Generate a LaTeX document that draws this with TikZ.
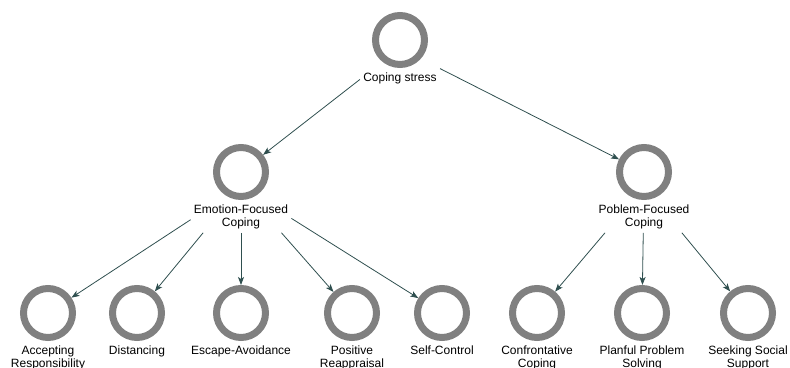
\documentclass[tikz,border=0pt]{standalone}
\usepackage{fontspec}
\setmainfont{Liberation Sans}
\usetikzlibrary{positioning}
\usetikzlibrary{arrows.meta}
\usetikzlibrary{fit}
\definecolor{ringgray}{RGB}{128,128,128}
\definecolor{edgeteal}{RGB}{47,79,79}

\begin{document}
\begin{tikzpicture}[x=1pt, y=-1pt, every node/.style={font=\fontsize{12}{13}\selectfont},
    ring/.style={circle, draw=ringgray, line width=7pt, minimum size=49pt, inner sep=0pt},
    lbl/.style={align=center, inner sep=0pt},
    grp/.style={inner sep=3pt},
    edge/.style={draw=edgeteal, line width=0.8pt, -{Stealth[length=8pt, width=6pt, inset=2pt]}}]
    \useasboundingbox (0,0) rectangle (790,367);
    % top level
    \node[ring] (cs) at (400,40) {};
    \node[lbl, below=5pt of cs] (cs-txt) {Coping stress};
    \node[grp, fit=(cs)(cs-txt)] (cs-grp) {};
    % second level
    \foreach \n/\x/\t in {ef/241/{Emotion-Focused\\Coping}, pf/644/{Poblem-Focused\\Coping}} {
        \node[ring] (\n) at (\x,172) {};
        \node[lbl, below=5pt of \n] (\n-txt) {\t};
        \node[grp, fit=(\n)(\n-txt)] (\n-grp) {};
        \draw[edge] (cs-grp) -- (\n);
    }
    % leaves
    \foreach \n/\x/\t in {ar/48/{Accepting\\Responsibility}, di/137/Distancing, ea/241/Escape-Avoidance,
                          pr/352/{Positive\\Reappraisal}, sc/442/Self-Control, cc/537/{Confrontative\\Coping},
                          pp/642/{Planful Problem\\Solving}, ss/748/{Seeking Social\\Support}} {
        \node[ring] (\n) at (\x,313) {};
        \node[lbl, below=5pt of \n] (\n-txt) {\t};
    }
    \foreach \n in {ar,di,ea,pr,sc}
        \draw[edge] (ef-grp) -- (\n);
    \foreach \n in {cc,pp,ss}
        \draw[edge] (pf-grp) -- (\n);
\end{tikzpicture}
\end{document}
